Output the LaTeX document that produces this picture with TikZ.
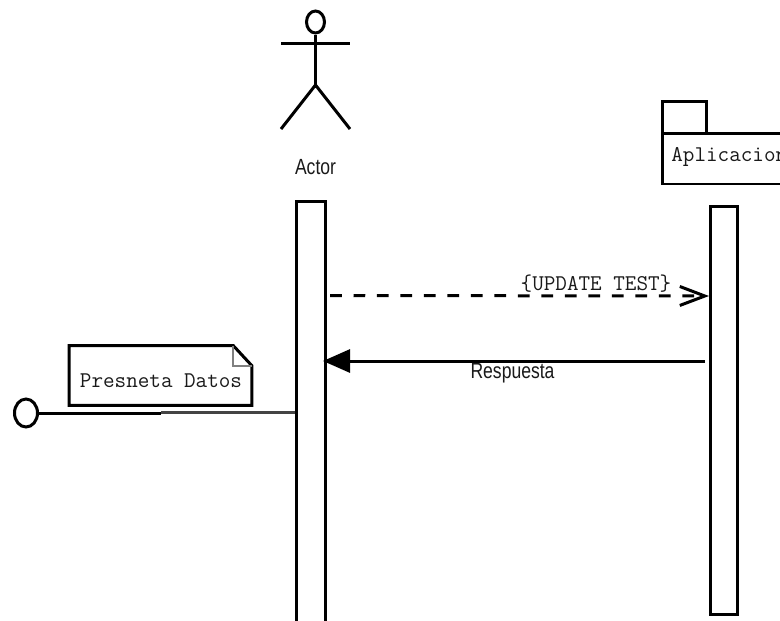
\documentclass[tikz,border=0pt]{standalone}
\usepackage{fontspec}
\setsansfont[FakeStretch=0.8]{Liberation Sans}
\usetikzlibrary{arrows.meta, shapes.geometric}
\definecolor{linedark}{HTML}{000000}
\definecolor{linegray}{HTML}{444444}
\definecolor{foldgray}{HTML}{808080}
\definecolor{textdark}{HTML}{1A1A1A}

\begin{document}
\begin{tikzpicture}[
  x=0.02cm, y=-0.02cm,
  ln/.style={draw=linedark, line width=0.06cm},
  lifebar/.style={rectangle, ln, fill=white, anchor=north west, inner sep=0pt},
  pkg/.style={rectangle, ln, fill=white, anchor=north west, inner sep=0pt},
  head/.style={ellipse, ln, inner sep=0pt, minimum width=0.36cm, minimum height=0.44cm},
  mono/.style={font=\fontsize{12.8}{15}\ttfamily, text=textdark, inner sep=0pt},
  lab/.style={font=\fontsize{12.5}{15}\sffamily, text=textdark, inner sep=0pt},
  msgdash/.style={ln, dash pattern=on 0.235cm off 0.235cm, -{Straight Barb[length=0.5cm, width=0.38cm]}},
  msgsolid/.style={ln, -{Triangle[length=0.54cm, width=0.46cm]}},
]
\useasboundingbox (0, 0) rectangle (780, 620);
\clip (0, 0) rectangle (780, 620);
% ---- actor figure
\node[head] (actor_head) at (315.5, 22) {};
\coordinate (actor_hip) at (315.5, 85);
\coordinate (actor_larm) at (281, 43);
\coordinate (actor_rarm) at (350, 43);
\coordinate (actor_lfoot) at (281, 129);
\coordinate (actor_rfoot) at (350, 129);
\draw[ln] (actor_head.south) -- (actor_hip);
\draw[ln] (actor_larm) -- (actor_rarm);
\draw[ln] (actor_lfoot) -- (actor_hip) -- (actor_rfoot);
\node[lab] (actor_lab) at (315.5, 167) {Actor};
% ---- package box, runs off the right edge
\node[pkg, minimum width=0.88cm, minimum height=0.66cm] (pkg_tab) at (660.5, 99.5) {};
\node[pkg, minimum width=3.0cm, minimum height=1.02cm] (pkg_box) at (660.5, 131.5) {};
\node[mono, anchor=west] (pkg_lab) at (671, 157) {Aplicacion};
% ---- activation bars
\node[lifebar, minimum width=0.58cm, minimum height=9.0cm] (bar_actor) at (295, 199.5) {};
\node[lifebar, minimum width=0.54cm, minimum height=8.18cm] (bar_app) at (708.5, 204.5) {};
% ---- messages
\coordinate (msg_req) at (330, 295.5);
\coordinate (msg_req_end) at (709, 296);
\coordinate (msg_resp) at (705, 361);
\coordinate (msg_resp_end) at (323, 361);
\draw[msgdash] (msg_req) -- (msg_req_end);
\draw[msgsolid] (msg_resp) -- (msg_resp_end);
\node[mono] (req_lab) at (596, 284) {\{UPDATE TEST\}};
\node[lab] (resp_lab) at (512.5, 373) {Respuesta};
% ---- note and found message
\node[rectangle, minimum width=3.64cm, minimum height=1.18cm, inner sep=0pt] (note_box) at (160.5, 375.5) {};
\draw[ln, fill=white] (note_box.north west) -- ([xshift=-0.37cm]note_box.north east)
  -- ([yshift=-0.4cm]note_box.north east) -- (note_box.south east) -- (note_box.south west) -- cycle;
\draw[draw=foldgray, line width=0.04cm] ([xshift=-0.37cm]note_box.north east)
  -- ([xshift=-0.37cm, yshift=-0.4cm]note_box.north east) -- ([yshift=-0.4cm]note_box.north east);
\node[mono] (note_lab) at (161, 381) {Presneta Datos};
\node[head, minimum width=0.46cm, minimum height=0.56cm] (found_dot) at (26, 413) {};
\coordinate (found_mid) at (161, 413);
\draw[ln] (found_dot.east) -- (found_mid);
\draw[draw=linegray, line width=0.06cm] (161, 412) -- (bar_actor.west |- 0, 412);
\end{tikzpicture}
\end{document}
